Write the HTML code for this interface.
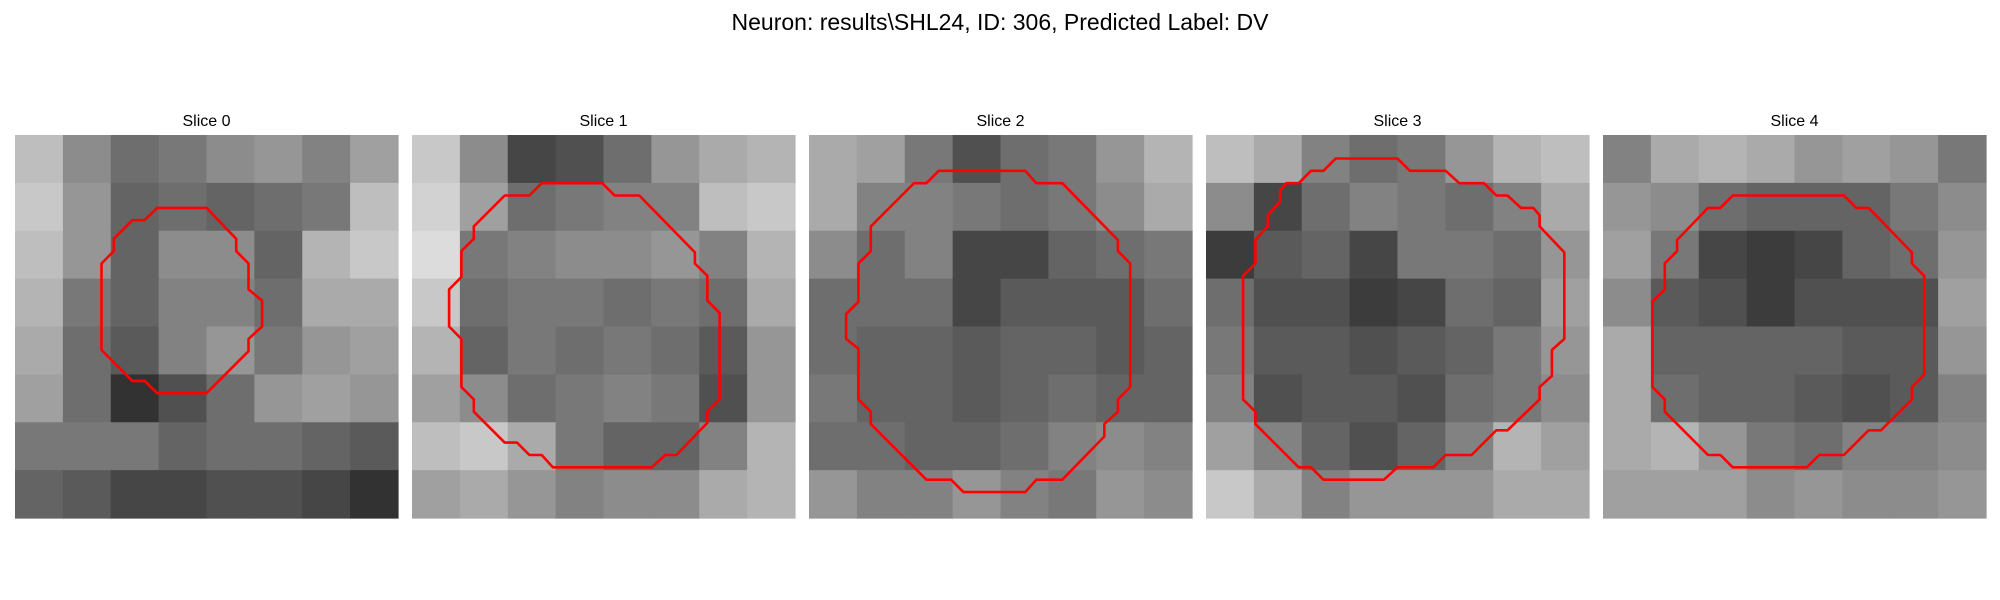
<!DOCTYPE html>
<html><head><meta charset="utf-8"><style>
html,body{margin:0;padding:0;background:#fff;}
svg{display:block;font-family:"Liberation Sans","DejaVu Sans",sans-serif;}
</style></head><body>
<svg id="fig" width="2000" height="600" viewBox="0 0 2000 600" xmlns="http://www.w3.org/2000/svg">
<text x="1000" y="30" text-anchor="middle" font-size="23" fill="#000">Neuron: results\SHL24, ID: 306, Predicted Label: DV</text>
</svg>
<script>
const sliceTitles = ["Slice 0","Slice 1","Slice 2","Slice 3","Slice 4"];
const gray0 = [[190,140,110,120,140,150,130,160],[200,150,100,110,100,110,120,190],[190,150,100,140,140,100,180,200],[180,120,100,130,130,110,170,170],[170,110,90,130,150,120,150,160],[160,110,50,80,110,150,160,150],[120,120,120,100,110,110,100,90],[100,90,70,70,80,80,70,50]];
const gray1 = [[200,140,70,80,110,150,170,180],[210,160,110,120,130,130,190,200],[220,120,130,140,140,150,130,180],[200,110,120,120,110,120,110,170],[180,100,120,110,120,110,90,150],[160,140,110,120,130,120,80,150],[190,200,170,120,100,100,130,180],[160,170,150,130,140,140,170,180]];
const gray2 = [[170,160,120,80,110,120,150,180],[170,130,130,120,110,120,140,170],[140,110,130,70,70,100,110,120],[110,110,110,70,90,90,90,110],[110,100,100,90,100,100,90,100],[120,100,100,90,100,110,100,100],[110,110,100,100,110,130,140,130],[150,130,130,150,130,120,150,140]];
const gray3 = [[190,170,130,110,120,150,180,190],[140,70,110,130,120,110,130,170],[60,90,100,70,120,120,110,150],[110,80,80,60,70,110,100,160],[120,90,90,80,90,100,120,150],[130,80,90,90,80,110,120,140],[160,130,100,80,100,130,180,160],[200,170,130,150,150,150,170,170]];
const gray4 = [[130,170,180,170,150,160,150,120],[150,140,110,100,100,100,120,140],[160,120,70,60,70,100,110,150],[140,90,80,60,80,80,80,160],[170,100,100,100,100,90,90,150],[170,110,100,100,90,80,90,130],[170,180,150,120,110,130,130,140],[160,160,160,140,150,140,140,150]];
const contour0 = [[11.5,5.9],[15.5,5.9],[17.9,8.4],[17.9,9.4],[18.9,10.4],[18.9,12.5],[20,13.4],[20,15.5],[18.9,16.5],[18.9,17.5],[15.5,20.9],[11.5,20.9],[10.5,19.9],[9.5,19.9],[7,17.4],[7,10.4],[8,9.4],[8,8.4],[9.5,6.9],[10.5,6.9]];
const contour1 = [[10.5,3.9],[15.4,3.9],[16.4,4.9],[18.4,4.9],[22.9,9.5],[22.9,10.4],[23.9,11.4],[23.9,13.4],[24.9,14.4],[24.9,21.4],[23.9,22.4],[23.9,23.3],[21.4,25.9],[20.5,25.9],[19.4,26.9],[11.4,26.9],[10.5,25.9],[9.5,25.9],[8.5,24.9],[7.5,24.9],[5,22.4],[5,21.4],[4,20.4],[4,16.5],[3,15.5],[3,12.5],[4,11.5],[4,9.4],[5,8.4],[5,7.4],[7.5,4.9],[9.5,4.9]];
const contour2 = [[10.5,2.9],[17.5,2.9],[18.4,3.9],[20.5,3.9],[25,8.5],[25,9.4],[26,10.4],[26,20.4],[25,21.4],[25,22.4],[23.9,23.4],[23.9,24.4],[20.5,27.9],[18.4,27.9],[17.5,28.9],[12.5,28.9],[11.5,27.9],[9.5,27.9],[5,23.4],[5,22.4],[4,21.4],[4,17.3],[3,16.5],[3,14.5],[4,13.5],[4,10.4],[5,9.4],[5,7.4],[8.5,3.9],[9.5,3.9]];
const contour3 = [[10.5,1.9],[15.5,1.9],[16.5,2.9],[19.4,2.9],[20.5,3.9],[22.5,3.9],[23.5,4.9],[24.4,4.9],[25.5,5.9],[26.5,5.9],[27,6.5],[27,7.4],[29,9.5],[29,16.5],[28,17.4],[28,19.5],[27,20.4],[27,21.4],[24.4,23.9],[23.5,23.9],[21.5,25.9],[19.4,25.9],[18.4,26.9],[15.5,26.9],[14.4,27.9],[9.5,27.9],[8.5,26.9],[7.5,26.9],[4,23.4],[4,22.4],[3,21.4],[3,11.4],[4,10.4],[4,8.5],[5,7.4],[5,6.5],[6,5.4],[6,4.5],[6.5,3.9],[7.5,3.9],[8.5,2.9],[9.5,2.9]];
const contour4 = [[10.5,4.9],[19.5,4.9],[20.5,5.9],[21.5,5.9],[25,9.5],[25,10.4],[26,11.4],[26,19.4],[25,20.4],[25,21.4],[22.5,23.9],[21.5,23.9],[19.5,25.9],[17.5,25.9],[16.5,26.9],[10.5,26.9],[9.5,25.9],[8.5,25.9],[5,22.4],[5,21.4],[4,20.4],[4,13.5],[5,12.5],[5,10.4],[6,9.4],[6,8.5],[8.5,5.9],[9.5,5.9]];

const grays = [gray0,gray1,gray2,gray3,gray4];
const contours = [contour0,contour1,contour2,contour3,contour4];
const NS = "http://www.w3.org/2000/svg";
const svg = document.getElementById('fig');
const panelX0 = 15, panelStep = 397, panelY0 = 135, panelSize = 383, gridCells = 31;
function mk(tag, attrs){const e=document.createElementNS(NS,tag);for(const k in attrs)e.setAttribute(k,attrs[k]);return e;}
for(let p=0;p<5;p++){
  const px = panelX0 + p*panelStep;
  const g = mk('g',{});
  
  
  svg.appendChild(g);
  const t = mk('text',{x:px+panelSize/2,y:126,'text-anchor':'middle','font-size':'16',fill:'#000'});
  
  
  t.textContent = sliceTitles[p];
  g.appendChild(t);
  const data = grays[p];
  const n = data.length;
  const cs = panelSize/n;
  for(let r=0;r<n;r++){for(let c=0;c<data[r].length;c++){
    const v = data[r][c];
    const rect = mk('rect',{x:(px+c*cs).toFixed(2),y:(panelY0+r*cs).toFixed(2),width:(cs+0.6).toFixed(2),height:(cs+0.6).toFixed(2),fill:`rgb(${v},${v},${v})`});
    
    
    g.appendChild(rect);
  }}
  const u = panelSize/gridCells;
  const pts = contours[p].map(q=>(px+q[0]*u).toFixed(1)+','+(panelY0+q[1]*u).toFixed(1)).join(' ');
  const poly = mk('polygon',{points:pts,fill:'none',stroke:'#ff0000','stroke-width':'2.6','stroke-linejoin':'round'});
  
  
  g.appendChild(poly);
}
</script>
</body></html>
